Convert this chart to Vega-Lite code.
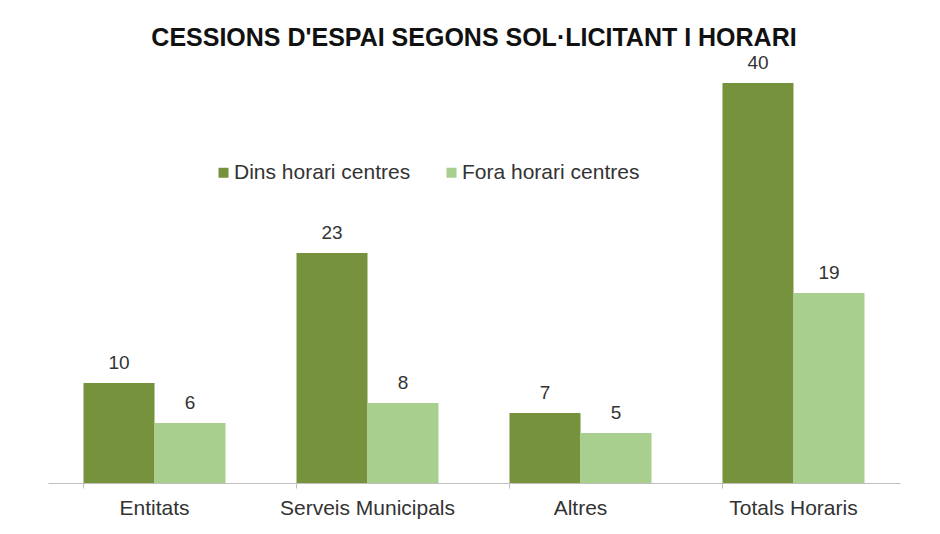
{
  "$schema": "https://vega.github.io/schema/vega-lite/v6.json",
  "width": 852,
  "height": 400,
  "autosize": {"type": "none"},
  "padding": {"left": 48, "top": 83, "right": 40, "bottom": 51},
  "background": "white",
  "title": {
    "text": "CESSIONS D'ESPAI SEGONS SOL·LICITANT I HORARI",
    "font": "Liberation Sans",
    "fontSize": 25,
    "fontWeight": "bold",
    "color": "#111111",
    "anchor": "middle",
    "offset": 3
  },
  "data": {
    "values": [
      {"categoria": "Entitats", "horari": "Dins horari centres", "valor": 10},
      {"categoria": "Entitats", "horari": "Fora horari centres", "valor": 6},
      {"categoria": "Serveis Municipals", "horari": "Dins horari centres", "valor": 23},
      {"categoria": "Serveis Municipals", "horari": "Fora horari centres", "valor": 8},
      {"categoria": "Altres", "horari": "Dins horari centres", "valor": 7},
      {"categoria": "Altres", "horari": "Fora horari centres", "valor": 5},
      {"categoria": "Totals Horaris", "horari": "Dins horari centres", "valor": 40},
      {"categoria": "Totals Horaris", "horari": "Fora horari centres", "valor": 19}
    ]
  },
  "encoding": {
    "x": {
      "field": "categoria",
      "type": "nominal",
      "sort": ["Entitats", "Serveis Municipals", "Altres", "Totals Horaris"],
      "scale": {"paddingInner": 0.3333, "paddingOuter": 0.1667},
      "axis": {
        "title": null,
        "labelAngle": 0,
        "labelFont": "Liberation Sans",
        "labelFontSize": 21,
        "labelColor": "#333333",
        "labelPadding": 9,
        "domainColor": "#bfbfbf",
        "tickColor": "#bfbfbf",
        "tickSize": 5,
        "bandPosition": 0,
        "grid": false
      }
    },
    "xOffset": {
      "field": "horari",
      "type": "nominal",
      "scale": {"paddingInner": 0, "paddingOuter": 0}
    },
    "y": {
      "field": "valor",
      "type": "quantitative",
      "scale": {"domain": [0, 40], "nice": false},
      "axis": null
    }
  },
  "layer": [
    {
      "mark": {"type": "bar"},
      "encoding": {
        "color": {
          "field": "horari",
          "type": "nominal",
          "scale": {
            "domain": ["Dins horari centres", "Fora horari centres"],
            "range": ["#76923c", "#a9cf8e"]
          },
          "legend": {
            "title": null,
            "orient": "none",
            "direction": "horizontal",
            "legendX": 165,
            "legendY": 79,
            "symbolType": "square",
            "symbolSize": 100,
            "symbolStrokeWidth": 0,
            "labelFont": "Liberation Sans",
            "labelFontSize": 21,
            "labelColor": "#333333",
            "labelLimit": 400,
            "columnPadding": 30,
            "labelOffset": 0
          }
        }
      }
    },
    {
      "mark": {
        "type": "text",
        "baseline": "bottom",
        "dy": -10,
        "font": "Liberation Sans",
        "fontSize": 19,
        "color": "#333333"
      },
      "encoding": {
        "text": {"field": "valor", "type": "quantitative"}
      }
    }
  ],
  "config": {"view": {"stroke": null}}
}
